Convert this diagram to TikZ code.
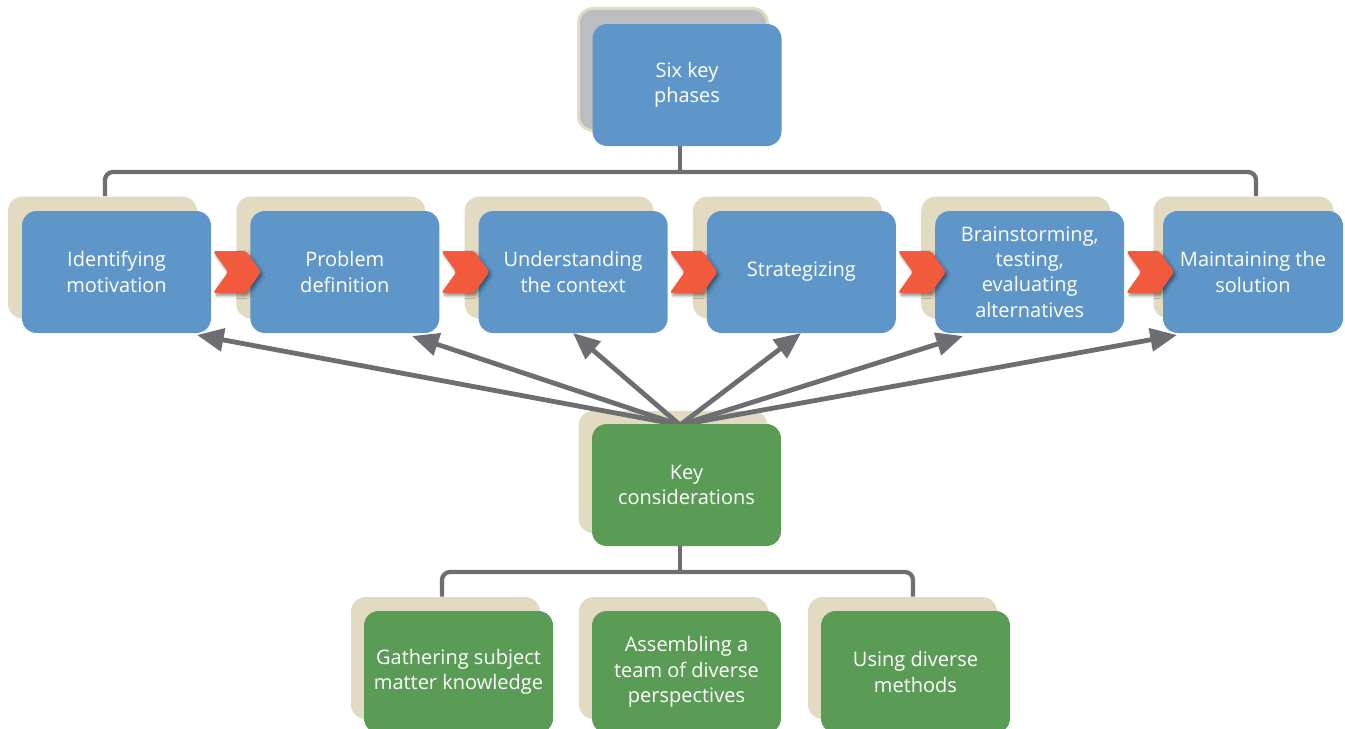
\documentclass[tikz,border=0pt]{standalone}
\usepackage{fontspec}
\setmainfont{Open Sans}
\usetikzlibrary{arrows.meta,shadows.blur}
\definecolor{boxblue}{HTML}{5F96C9}
\definecolor{boxgreen}{HTML}{5A9B55}
\definecolor{beige}{HTML}{E2DBC1}
\definecolor{shadgray}{HTML}{BCBDC0}
\definecolor{linegray}{HTML}{6D6E71}
\definecolor{chevred}{HTML}{F15A3D}
\begin{document}
\begin{tikzpicture}[x=0.75pt,y=-0.75pt,
  box/.style={rounded corners=11pt, minimum width=141.75pt, minimum height=91.5pt, inner sep=0pt, align=center, text=white, font=\fontsize{15}{19}\selectfont},
  bluebox/.style={box, fill=boxblue},
  greenbox/.style={box, fill=boxgreen},
  shadbox/.style={box, fill=beige},
  grayshad/.style={box, fill=shadgray, draw=beige, line width=2.2pt},
  conn/.style={draw=linegray, line width=3.2pt, rounded corners=6pt},
  arr/.style={draw=linegray, line width=3.6pt, -{Triangle[length=20pt,width=17pt]}},
  chevron/.pic={\fill[chevred, rounded corners=2pt, blur shadow={shadow xshift=1.5pt, shadow yshift=-2pt, shadow blur steps=6, shadow opacity=45}] (0,-21) -- (33,-21) -- (48,0) -- (33,21) -- (0,21) -- (15,0) -- cycle;}
]
\useasboundingbox (0,0) rectangle (1345,728);

% top node
\node[grayshad] (tops) at (673,69.5) {};
\node[bluebox] (top) at (687,85) {Six key\\phases};

% phase shadows
\node[shadbox] (p1s) at (102.5,257.5) {};
\node[shadbox] (p2s) at (330.8,257.5) {};
\node[shadbox] (p3s) at (559.1,257.5) {};
\node[shadbox] (p4s) at (787.4,257.5) {};
\node[shadbox] (p5s) at (1015.7,257.5) {};
\node[shadbox, minimum width=135pt] (p6s) at (1243.5,257.5) {};

% top connector
\coordinate (tj) at (680,172);
\coordinate (l1) at (105,172);
\coordinate (l6) at (1256,172);
\draw[conn] (top.south -| tj) -- (tj);
\draw[conn] (l1 |- p1s.north) -- (l1) -- (l6) -- (l6 |- p6s.north);

% phase boxes and chevrons
\node[bluebox] (p1) at (116.5,272) {Identifying\\motivation};
\node[bluebox] (p2) at (344.8,272) {Problem\\definition};
\pic at (213,272) {chevron};
\node[bluebox] (p3) at (573.1,272) {Understanding\\the context};
\pic at (441.3,272) {chevron};
\node[bluebox] (p4) at (801.4,272) {Strategizing};
\pic at (669.6,272) {chevron};
\node[bluebox] (p5) at (1029.7,272) {Brainstorming,\\testing,\\evaluating\\alternatives};
\pic at (897.9,272) {chevron};
\node[bluebox, minimum width=135pt] (p6) at (1253,272) {Maintaining the\\solution};
\pic at (1126.2,272) {chevron};

% key considerations
\node[shadbox] (ks) at (673,472) {};
\coordinate (hub) at (680,425);
\coordinate (t1) at (197,335);
\coordinate (t2) at (412,336);
\coordinate (t3) at (573,333);
\coordinate (t4) at (801,333);
\coordinate (t5) at (963,336);
\coordinate (t6) at (1177,335);
\foreach \t in {t1,t2,t3,t4,t5,t6} \draw[arr] (hub) -- (\t);
\node[greenbox] (key) at (686.5,485) {Key\\considerations};

% bottom
\node[shadbox] (b1s) at (445.5,658) {};
\node[shadbox] (b2s) at (673.5,658) {};
\node[shadbox] (b3s) at (902.5,658) {};
\coordinate (kj) at (680,572);
\coordinate (k1) at (442,572);
\coordinate (k3) at (913,572);
\draw[conn] (key.south -| kj) -- (kj);
\draw[conn] (k1 |- b1s.north) -- (k1) -- (k3) -- (k3 |- b3s.north);
\node[greenbox] (b1) at (458.5,672) {Gathering subject\\matter knowledge};
\node[greenbox] (b2) at (686.5,672) {Assembling a\\team of diverse\\perspectives};
\node[greenbox] (b3) at (915.5,672) {Using diverse\\methods};
\end{tikzpicture}
\end{document}
